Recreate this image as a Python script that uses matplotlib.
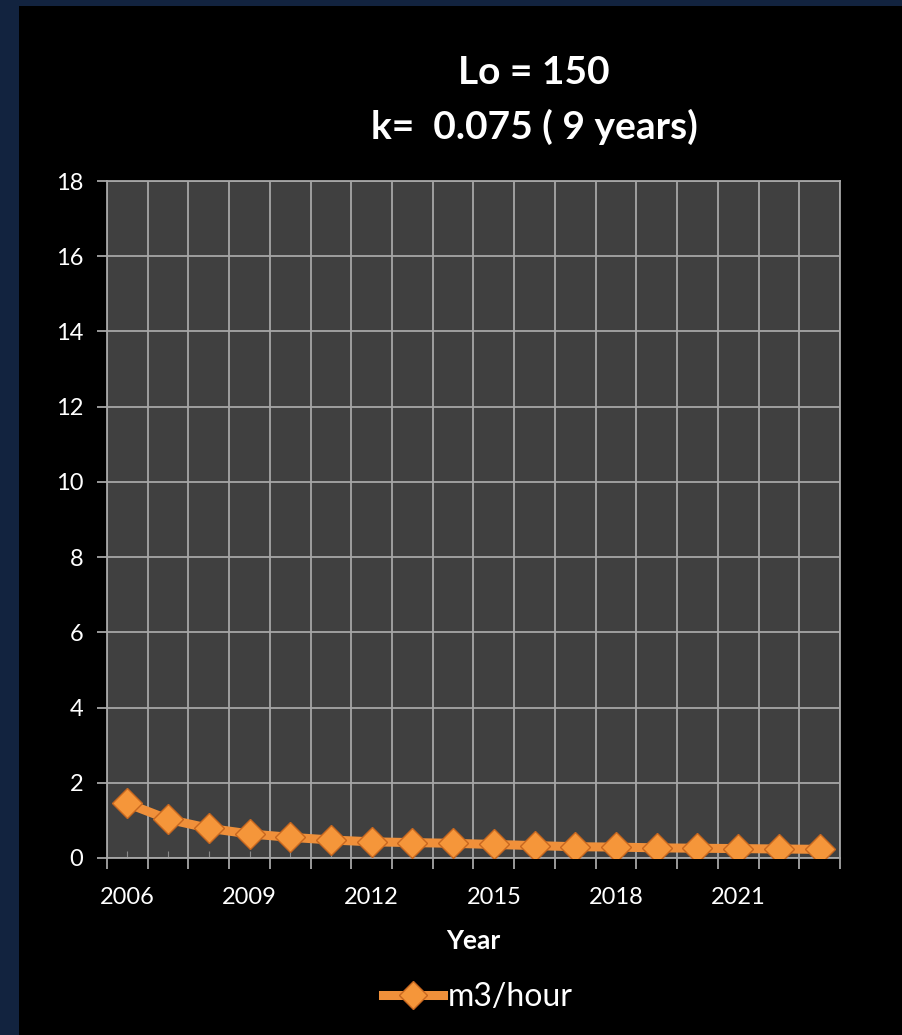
import matplotlib
matplotlib.use("Agg")
import matplotlib.pyplot as plt
from matplotlib.patches import Rectangle
from matplotlib.lines import Line2D
import numpy as np

years = list(range(2006, 2024))
values = [1.45, 1.03, 0.79, 0.64, 0.55, 0.48, 0.43, 0.41, 0.39, 0.36,
          0.33, 0.30, 0.29, 0.27, 0.26, 0.25, 0.24, 0.23]
yticks = [0, 2, 4, 6, 8, 10, 12, 14, 16, 18]
title_lines = ["Lo = 150", "k=  0.075 ( 9 years)"]
series_name = "m3/hour"
xlabel = "Year"

plt.rcParams['font.family'] = ['Lato', 'DejaVu Sans']

W, H = 903, 1035
fig = plt.figure(figsize=(W / 100, H / 100), dpi=100)
fig.patch.set_facecolor('#12233f')
fig.patches.append(Rectangle((19 / W, 0), 1, 1 - 6 / H, transform=fig.transFigure,
                             facecolor='black', edgecolor='none', zorder=-5))

ax = fig.add_axes([107 / W, 1 - 858 / H, (840 - 107) / W, (858 - 181) / H])
ax.set_zorder(2)
ax.set_facecolor('#404040')

x = np.arange(len(years))
orange = '#f0903a'
ax.plot(x, values, color=orange, linewidth=6.5, solid_capstyle='round', zorder=3)
ax.plot(x, values, linestyle='none', marker='D', markersize=15,
        markerfacecolor='#f5963a', markeredgecolor='#c8671f', markeredgewidth=1.0,
        zorder=4)

ax.set_xlim(-0.5, len(years) - 0.5)
ax.set_ylim(0, 18)
ax.set_yticks(yticks)
ax.set_yticklabels([str(v) for v in yticks])

ax.set_xticks(x)
ax.set_xticklabels([str(y) if (y - 2006) % 3 == 0 else '' for y in years])
ax.set_xticks(np.arange(-0.5, len(years), 1.0), minor=True)

ax.grid(True, which='major', axis='y', color='#a6a6a6', linewidth=1.3, zorder=1)
ax.grid(True, which='minor', axis='x', color='#a6a6a6', linewidth=1.3, zorder=1)
ax.set_axisbelow(True)

ax.tick_params(axis='x', which='major', direction='in', length=5, color='#8a8a8a',
               labelcolor='white', labelsize=17, pad=21)
ax.tick_params(axis='x', which='minor', direction='out', length=8, color='#a6a6a6',
               width=1.3)
ax.tick_params(axis='y', which='major', direction='out', length=7, color='#a6a6a6',
               width=1.3, labelcolor='white', labelsize=17, pad=10)

for s in ['top', 'right', 'left', 'bottom']:
    ax.spines[s].set_color('#a6a6a6')
    ax.spines[s].set_linewidth(1.3)

ax.set_xlabel(xlabel, color='white', fontsize=19, fontweight='bold', labelpad=15)

fig.text(534 / W, 1 - 72 / H, title_lines[0], ha='center', va='center',
         color='white', fontsize=28, fontweight='bold')
fig.text(534 / W, 1 - 127 / H, title_lines[1], ha='center', va='center',
         color='white', fontsize=28, fontweight='bold')

handle = Line2D([], [], color=orange, linewidth=6.5, marker='D', markersize=14,
                markerfacecolor='#f5963a', markeredgecolor='#c8671f')
leg = fig.legend([handle], [series_name], loc='center', bbox_to_anchor=(478 / W, 1 - 997 / H),
                 frameon=False, fontsize=23, handlelength=1.9, handletextpad=0.15,
                 labelcolor='white')

fig.savefig('out.png', dpi=100, facecolor=fig.get_facecolor())
